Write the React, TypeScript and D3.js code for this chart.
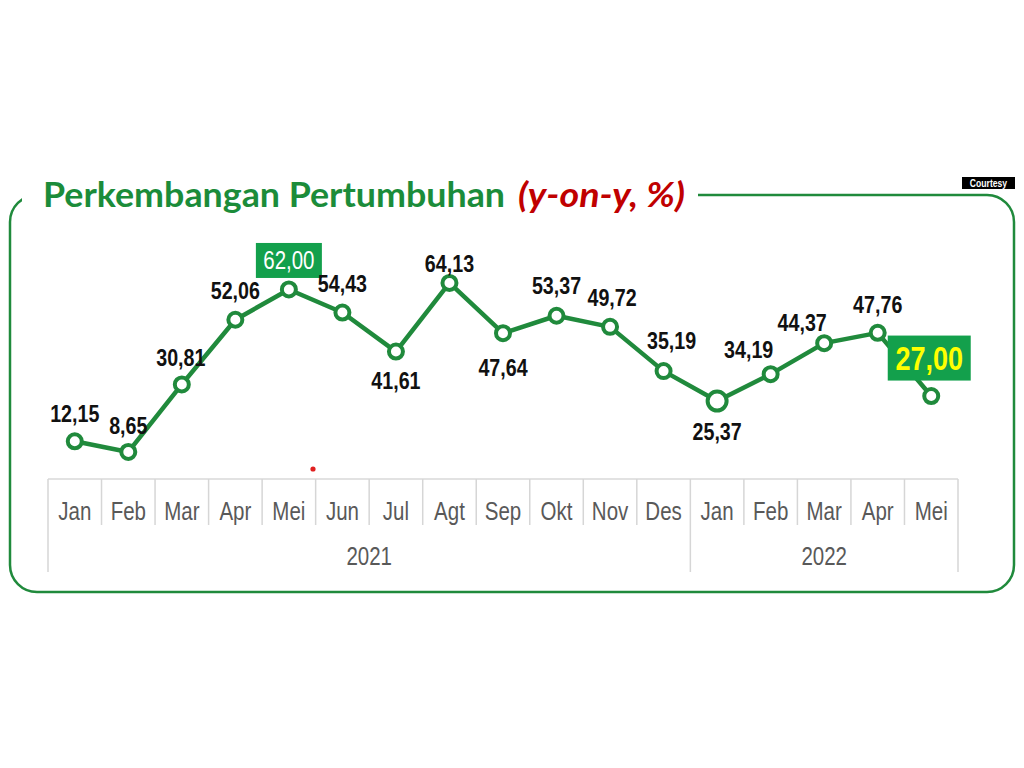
import React from 'react';
import * as d3 from 'd3';

// data
const months = ['Jan', 'Feb', 'Mar', 'Apr', 'Mei', 'Jun', 'Jul', 'Agt', 'Sep', 'Okt', 'Nov', 'Des', 'Jan', 'Feb', 'Mar', 'Apr', 'Mei'];
const growth = [12.15, 8.65, 30.81, 52.06, 62.0, 54.43, 41.61, 64.13, 47.64, 53.37, 49.72, 35.19, 25.37, 34.19, 44.37, 47.76, 27.0];
const years = ['2021', '2022'];
const monthsPerYear = [12, 5];

// layout
const labelOffset = [
  [0, -28], [0, -27], [-1, -27], [0, -29], [0, -29], [0, -29], [0, 29], [0, -20], [0, 34],
  [0, -30], [2, -30], [8, -31], [0, 30], [-22, -25], [-22, -21], [0, -28], [-2, -38],
];
const boxed: Record<number, { w: number; h: number; size: number; color: string; weight: string }> = {
  4: { w: 66, h: 35, size: 25, color: '#ffffff', weight: 'normal' },
  16: { w: 83, h: 45, size: 33, color: '#ffff00', weight: 'bold' },
};

const GREEN = '#208a3c';
const BOX = '#13a04c';
const SANS = "'Liberation Sans', Arial, sans-serif";

// Arial Narrow is not installed: squeeze Liberation Sans instead
function NText(props: { x: number; y: number; size: number; fill: string; weight?: string; dy?: string; children: React.ReactNode }) {
  return (
    <text transform={`translate(${props.x},${props.y}) scale(0.82,1)`} dy={props.dy} textAnchor="middle"
      fontFamily={SANS} fontSize={props.size} fontWeight={props.weight ?? 'normal'} fill={props.fill}>
      {props.children}
    </text>
  );
}

export default function App() {
  const x = d3.scaleBand<number>().domain(d3.range(months.length)).range([48, 958]).padding(0);
  const y = d3.scaleLinear().domain([0, 70]).range([478.3, 265.1]);
  const cx = (i: number) => (x(i) ?? 0) + x.bandwidth() / 2;

  const line = d3.line<number>()
    .x((d, i) => cx(i))
    .y(d => y(d));

  const axisTop = 479;
  const fmt = (v: number) => v.toFixed(2).replace('.', ',');

  // year groups
  let start = 0;
  const groups = years.map((yr, k) => {
    const g = { yr, from: start, to: start + monthsPerYear[k] };
    start += monthsPerYear[k];
    return g;
  });
  const majorIdx = new Set(groups.map(g => g.from).concat([months.length]));
  const edge = (i: number) => (i < months.length ? (x(i) ?? 0) : 958);

  return (
    <div style={{ position: 'absolute', left: 0, top: 0 }}>
      <svg width={1024} height={768} viewBox="0 0 1024 768" style={{ display: 'block', background: '#fff' }}>
        {/* frame */}
        <rect x={10} y={195} width={1004} height={397} rx={27} ry={27} fill="none" stroke={GREEN} strokeWidth={2.5} />
        <rect x={22} y={183} width={676} height={24} fill="#fff" />

        {/* title */}
        <text x={43} y={207} fontFamily="Lato, 'Open Sans', sans-serif" fontWeight="bold" fontSize={35}
          fill="#1b8c3a" textLength={462} lengthAdjust="spacingAndGlyphs">Perkembangan Pertumbuhan</text>
        <text x={518} y={207} fontFamily="Lato, 'Open Sans', sans-serif" fontWeight="bold" fontStyle="italic" fontSize={35}
          fill="#c00000" textLength={167} lengthAdjust="spacingAndGlyphs">(y-on-y, %)</text>

        {/* courtesy */}
        <rect x={962} y={177} width={53} height={12} fill="#000" />
        <NText x={988.5} y={186.8} size={10.5} weight="bold" fill="#fff">Courtesy</NText>

        {/* category axis */}
        <line x1={48} x2={958} y1={axisTop} y2={axisTop} stroke="#d9d9d9" strokeWidth={1.5} />
        {d3.range(months.length + 1).map(i => (
          <line key={'v' + i} x1={edge(i)} x2={edge(i)} y1={axisTop} y2={majorIdx.has(i) ? 572 : 525}
            stroke="#d6d6d6" strokeWidth={1.5} />
        ))}
        {months.map((m, i) => (
          <NText key={'m' + i} x={cx(i)} y={520} size={25} fill="#595959">{m}</NText>
        ))}
        {groups.map(g => (
          <NText key={g.yr} x={(edge(g.from) + edge(g.to)) / 2} y={565} size={25} fill="#595959">{g.yr}</NText>
        ))}

        {/* stray dot */}
        <circle cx={313} cy={469} r={2.6} fill="#e02020" />

        {/* series */}
        <path d={line(growth) ?? ''} fill="none" stroke={GREEN} strokeWidth={4.5} strokeLinejoin="round" />
        {growth.map((v, i) => (
          <circle key={'c' + i} cx={cx(i)} cy={y(v)} r={i === 12 ? 9.5 : 7} fill="#fff" stroke={GREEN} strokeWidth={4} />
        ))}

        {/* value labels */}
        {growth.map((v, i) => {
          const lx = cx(i) + labelOffset[i][0];
          const ly = y(v) + labelOffset[i][1];
          const b = boxed[i];
          if (b) {
            return (
              <g key={'l' + i}>
                <rect x={lx - b.w / 2} y={ly - b.h / 2} width={b.w} height={b.h} fill={BOX} />
                <NText x={lx} y={ly} dy="0.36em" size={b.size} weight={b.weight} fill={b.color}>{fmt(v)}</NText>
              </g>
            );
          }
          return (
            <NText key={'l' + i} x={lx} y={ly} dy="0.36em" size={24} weight="bold" fill="#111">{fmt(v)}</NText>
          );
        })}
      </svg>
    </div>
  );
}
